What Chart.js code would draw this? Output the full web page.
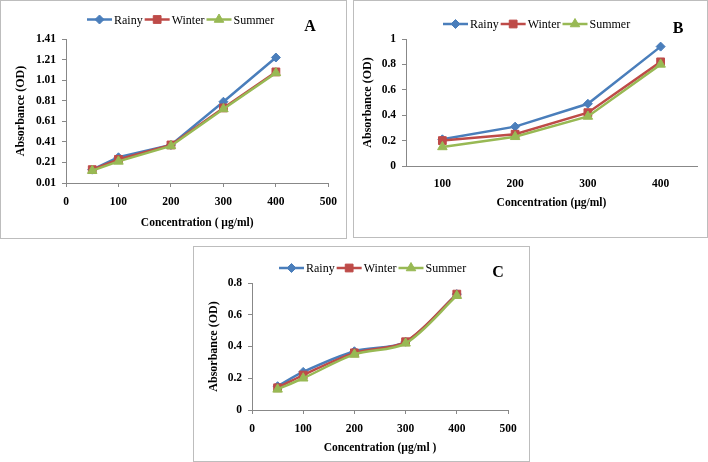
<!DOCTYPE html>
<html>
<head>
<meta charset="utf-8">
<script src="https://cdn.jsdelivr.net/npm/chart.js@4"></script>
<style>
  body { margin: 0; background: #fff; width: 708px; height: 462px; position: relative; overflow: hidden; }
  .box { position: absolute; box-sizing: border-box; border: 1.5px solid #bdbdbd; background: #fff; }
  .box canvas { position: absolute; left: 0; top: 0; }
  .letter { position: absolute; font: bold 16px "Liberation Serif", "Times New Roman", serif; color: #000; transform: translate(-50%, -50%); }
</style>
</head>
<body>
<div class="box" id="boxA" style="left:0;top:0;width:347px;height:239px"><canvas id="chartA" width="344" height="236"></canvas></div>
<div class="box" id="boxB" style="left:353px;top:0;width:355px;height:238px"><canvas id="chartB" width="352" height="235"></canvas></div>
<div class="box" id="boxC" style="left:193px;top:246px;width:337px;height:216px"><canvas id="chartC" width="334" height="213"></canvas></div>
<div class="letter" style="left:310px;top:26px">A</div>
<div class="letter" style="left:678px;top:28px">B</div>
<div class="letter" style="left:498px;top:272px">C</div>
<script>
// panel A
const concA = [50, 100, 200, 300, 400];
const rainyA = [0.14, 0.26, 0.38, 0.80, 1.23];
const winterA = [0.14, 0.24, 0.38, 0.74, 1.09];
const summerA = [0.13, 0.22, 0.37, 0.73, 1.08];
const yTicksA = [0.01, 0.21, 0.41, 0.61, 0.81, 1.01, 1.21, 1.41];

// panel B
const concB = ['100', '200', '300', '400'];
const rainyB = [0.21, 0.31, 0.49, 0.94];
const winterB = [0.20, 0.25, 0.42, 0.82];
const summerB = [0.15, 0.23, 0.39, 0.80];

// panel C
const concC = [50, 100, 200, 300, 400];
const rainyC = [0.15, 0.24, 0.37, 0.43, 0.73];
const winterC = [0.14, 0.22, 0.36, 0.43, 0.73];
const summerC = [0.13, 0.20, 0.35, 0.42, 0.72];

const seasons = ['Rainy', 'Winter', 'Summer'];
const colors = ['#4a7ebb', '#be4b48', '#98b954'];
const markers = ['rectRot', 'rect', 'triangle'];
const markerSizes = [4.5, 5.5, 5.5];

const serif = '"Liberation Serif", "Times New Roman", serif';
const axisColor = '#888';

// Excel-like legend: line with marker in the middle, then the name
const lineLegend = {
    id: 'lineLegend',
    afterDraw(chart, args, opts) {
        const ctx = chart.ctx;
        let x = opts.x;
        const y = opts.y;
        ctx.save();
        ctx.font = '12px ' + serif;
        ctx.textBaseline = 'middle';
        chart.data.datasets.forEach(ds => {
            ctx.strokeStyle = ds.borderColor;
            ctx.lineWidth = 2.5;
            ctx.beginPath();
            ctx.moveTo(x, y);
            ctx.lineTo(x + 25, y);
            ctx.stroke();
            ctx.fillStyle = ds.backgroundColor;
            ctx.strokeStyle = ds.borderColor;
            ctx.lineWidth = 1;
            Chart.helpers.drawPoint(ctx, { pointStyle: ds.pointStyle, radius: ds.pointRadius, rotation: 0, borderWidth: 1 }, x + 12.5, y);
            ctx.fillStyle = '#000';
            ctx.fillText(ds.label, x + 27, y + 1);
            x += 27 + ctx.measureText(ds.label).width + 2;
        });
        ctx.restore();
    }
};

function makeDatasets(xs, series, tension) {
    return series.map((vals, i) => ({
        label: seasons[i],
        data: xs ? xs.map((x, j) => ({ x: x, y: vals[j] })) : vals,
        borderColor: colors[i],
        backgroundColor: colors[i],
        borderWidth: 2.5,
        pointStyle: markers[i],
        pointRadius: markerSizes[i],
        pointBorderWidth: 1,
        tension: tension,
        order: 3 - i
    }));
}

function yAxis(opts) {
    return {
        min: opts.min,
        max: opts.max,
        afterBuildTicks: opts.ticks ? (scale => { scale.ticks = opts.ticks.map(v => ({ value: v })); }) : undefined,
        afterFit: scale => { scale.width = opts.width; },
        ticks: {
            stepSize: opts.step,
            padding: opts.labelPad,
            color: '#000',
            font: { family: serif, size: 11.5, weight: 'bold' },
            callback: opts.fmt
        },
        grid: { drawOnChartArea: false, tickLength: 4, color: axisColor },
        border: { display: true, color: axisColor, width: 1 },
        title: {
            display: true,
            text: 'Absorbance (OD)',
            color: '#000',
            font: { family: serif, size: 12, weight: 'bold' },
            padding: { top: opts.titlePad, bottom: 0 }
        }
    };
}

function xTitle(text, pad) {
    return {
        display: true,
        text: text,
        color: '#000',
        font: { family: serif, size: 11.5, weight: 'bold' },
        padding: { top: 0, bottom: pad }
    };
}

const tickFont = { family: serif, size: 11.5, weight: 'bold' };

// A
new Chart(document.getElementById('chartA'), {
    type: 'line',
    data: { datasets: makeDatasets(concA, [rainyA, winterA, summerA], 0) },
    plugins: [lineLegend],
    options: {
        responsive: false,
        animation: false,
        layout: { padding: { left: 0, right: 15, top: 38, bottom: 4 } },
        plugins: { legend: { display: false }, tooltip: { enabled: false }, lineLegend: { x: 86, y: 18.5 } },
        scales: {
            x: {
                type: 'linear',
                min: 0,
                max: 500,
                afterFit: scale => { scale.height = 50; },
                ticks: { stepSize: 100, padding: 8, color: '#000', font: tickFont },
                grid: { drawOnChartArea: false, tickLength: 4, color: axisColor },
                border: { display: true, color: axisColor, width: 1 },
                title: xTitle('Concentration ( \u00b5g/ml)', 3)
            },
            y: yAxis({ min: 0.01, max: 1.41, ticks: yTicksA, width: 65, labelPad: 6, titlePad: 13, fmt: v => v.toFixed(2) })
        }
    }
});

// B
new Chart(document.getElementById('chartB'), {
    type: 'line',
    data: { labels: concB, datasets: makeDatasets(null, [rainyB, winterB, summerB], 0) },
    plugins: [lineLegend],
    options: {
        responsive: false,
        animation: false,
        layout: { padding: { left: 0, right: 9, top: 38, bottom: 20 } },
        plugins: { legend: { display: false }, tooltip: { enabled: false }, lineLegend: { x: 89, y: 23 } },
        scales: {
            x: {
                type: 'category',
                offset: true,
                afterFit: scale => { scale.height = 50; },
                ticks: { padding: 11, color: '#000', font: tickFont },
                grid: { display: false, drawTicks: false },
                border: { display: true, color: axisColor, width: 1 },
                title: xTitle('Concentration (\u00b5g/ml)', 6)
            },
            y: yAxis({ min: 0, max: 1, step: 0.2, width: 52, labelPad: 6, titlePad: 7, fmt: v => String(+v.toFixed(1)) })
        }
    }
});

// C
new Chart(document.getElementById('chartC'), {
    type: 'line',
    data: { datasets: makeDatasets(concC, [rainyC, winterC, summerC], 0.3) },
    plugins: [lineLegend],
    options: {
        responsive: false,
        animation: false,
        layout: { padding: { left: 0, right: 20, top: 36, bottom: 3 } },
        plugins: { legend: { display: false }, tooltip: { enabled: false }, lineLegend: { x: 85, y: 21 } },
        scales: {
            x: {
                type: 'linear',
                min: 0,
                max: 500,
                afterFit: scale => { scale.height = 47; },
                ticks: { stepSize: 100, padding: 8, color: '#000', font: tickFont },
                grid: { drawOnChartArea: false, tickLength: 4, color: axisColor },
                border: { display: true, color: axisColor, width: 1 },
                title: xTitle('Concentration (\u00b5g/ml )', 2)
            },
            y: yAxis({ min: 0, max: 0.8, step: 0.2, width: 58, labelPad: 6, titlePad: 12.5, fmt: v => String(+v.toFixed(1)) })
        }
    }
});
</script>
</body>
</html>
